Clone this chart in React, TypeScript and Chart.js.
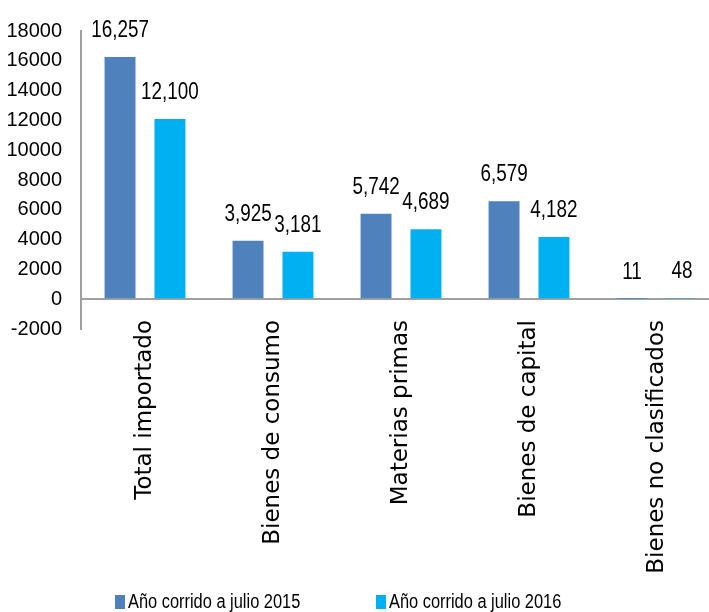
import React, { useEffect, useRef } from "react";
import { Chart, registerables } from "chart.js";

Chart.register(...registerables);

const categories = [
  "Total importado",
  "Bienes de consumo",
  "Materias primas",
  "Bienes de capital",
  "Bienes no clasificados",
];
const seriesNames = ["Año corrido a julio 2015", "Año corrido a julio 2016"];
const values2015 = [16257, 3925, 5742, 6579, 11];
const values2016 = [12100, 3181, 4689, 4182, 48];
const yMin = -2000;
const yMax = 18000;
const yStep = 2000;

const colors = ["#4F81BD", "#00B0F0"];
const sans = "'Liberation Sans', Arial, sans-serif";
const NARROW = 0.82;

function narrowText(ctx: any, text: string, x: number, y: number, align: string) {
  ctx.save();
  ctx.translate(x, y);
  ctx.scale(NARROW, 1);
  ctx.textAlign = align;
  ctx.fillText(text, 0, 0);
  ctx.restore();
}

const valueLabels = {
  id: "valueLabels",
  afterDatasetsDraw(chart: any) {
    const ctx = chart.ctx;
    ctx.save();
    ctx.font = `23px ${sans}`;
    ctx.fillStyle = "#000";
    ctx.textBaseline = "alphabetic";
    chart.data.datasets.forEach((ds: any, di: number) => {
      const meta = chart.getDatasetMeta(di);
      meta.data.forEach((el: any, i: number) => {
        const v = ds.data[i];
        narrowText(ctx, Number(v).toLocaleString("en-US"), el.x, el.y - 20, "center");
      });
    });
    ctx.restore();
  },
};

const customLegend = {
  id: "customLegend",
  afterDraw(chart: any) {
    const ctx = chart.ctx;
    ctx.save();
    ctx.font = `20px ${sans}`;
    ctx.textBaseline = "alphabetic";
    const xs = [115, 376];
    chart.data.datasets.forEach((ds: any, i: number) => {
      ctx.fillStyle = ds.backgroundColor;
      ctx.fillRect(xs[i], 595, 10, 14);
      ctx.fillStyle = "#000";
      narrowText(ctx, ds.label, xs[i] + 13, 608, "left");
    });
    ctx.restore();
  },
};

// Category labels sit slightly inside the plot's lower margin, as in the original
const raiseCategoryLabels = {
  id: "raiseCategoryLabels",
  afterLayout(chart: any) {
    const x = chart.scales.x;
    if (x) x.top -= 9;
  },
};

export default function App() {
  const ref = useRef<HTMLCanvasElement>(null);
  useEffect(() => {
    if (!ref.current) return;
    const chart = new Chart(ref.current, {
      type: "bar",
      data: {
        labels: categories,
        datasets: [
          {
            label: seriesNames[0],
            data: values2015,
            backgroundColor: colors[0],
            categoryPercentage: 0.78,
            barPercentage: 0.62,
          },
          {
            label: seriesNames[1],
            data: values2016,
            backgroundColor: colors[1],
            categoryPercentage: 0.78,
            barPercentage: 0.62,
          },
        ],
      },
      options: {
        animation: false,
        responsive: true,
        maintainAspectRatio: false,
        layout: { padding: { top: 29, left: 0, right: 0, bottom: 31 } },
        plugins: {
          legend: { display: false },
          tooltip: { enabled: false },
        },
        scales: {
          x: {
            grid: { display: false, drawTicks: false },
            border: { display: false },
            ticks: {
              autoSkip: false,
              minRotation: 90,
              maxRotation: 90,
              padding: 0,
              color: "#000",
              font: { family: "'DejaVu Sans', sans-serif", size: 23 },
            },
            afterFit(scale: any) {
              scale.height = 252;
              scale.paddingLeft = 0;
              scale.paddingRight = 0;
            },
          },
          y: {
            min: yMin,
            max: yMax,
            ticks: {
              stepSize: yStep,
              padding: 19,
              color: "#000",
              font: { family: sans, size: 20 },
              callback: (v: any) => String(v),
            },
            grid: {
              drawTicks: false,
              color: (c: any) => (c.tick && c.tick.value === 0 ? "#A0A0A0" : "rgba(0,0,0,0)"),
              lineWidth: 2,
            },
            border: { display: true, color: "#A0A0A0", width: 2 },
            afterFit(scale: any) {
              scale.width = 81;
            },
          },
        },
      },
      plugins: [valueLabels, customLegend, raiseCategoryLabels],
    });
    return () => chart.destroy();
  }, []);
  return (
    <div
      style={{
        position: "fixed",
        left: 0,
        top: 0,
        width: 709,
        height: 612,
        overflow: "hidden",
        background: "#fff",
      }}
    >
      <div style={{ position: "relative", width: 721, height: 612 }}>
        <canvas ref={ref} />
      </div>
    </div>
  );
}
